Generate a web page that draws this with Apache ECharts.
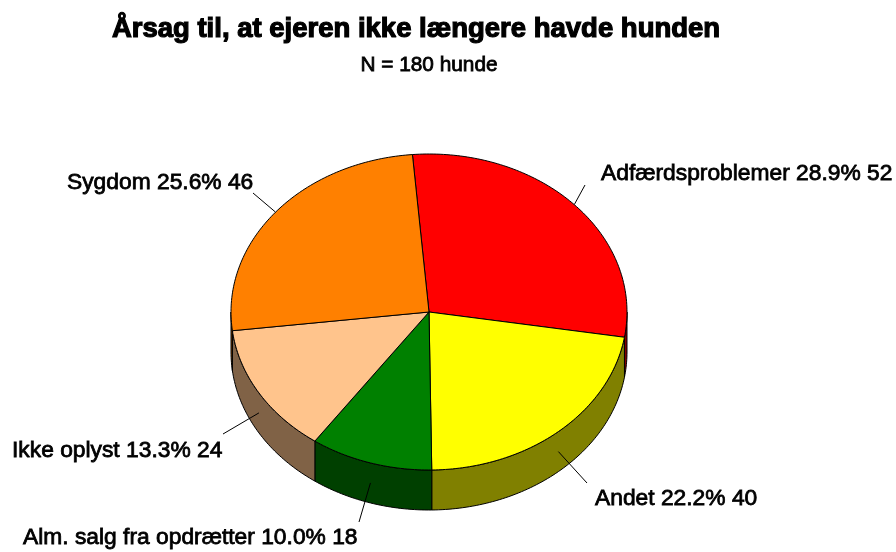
<!DOCTYPE html>
<html><head><meta charset="utf-8">
<style>html,body{margin:0;padding:0;background:#fff}#c{width:896px;height:552px}</style>
<script src="https://cdn.jsdelivr.net/npm/echarts@6/dist/echarts.min.js"></script>
</head><body><div id="c"></div>
<script>
const categories = ['Adfærdsproblemer','Andet','Alm. salg fra opdrætter','Ikke oplyst','Sygdom'];
const counts = [52,40,18,24,46];
const percents = ['28.9%','22.2%','10.0%','13.3%','25.6%'];
const topColors = ['#ff0000','#ffff00','#008000','#ffc48c','#ff8000'];
const wallColors = ['#800000','#808000','#004000','#806246','#804000'];
const title = 'Årsag til, at ejeren ikke længere havde hunden';
const subtitle = 'N = 180 hunde';

const CX=429, CY=312, RX=198, RY=158, DEPTH=40, START=-4.8;
const LABEL_X=[601,595,23,12,67], LABEL_Y=[174,499,538,451,183];
const LEAD_END=[[585,185],[587,483],[359,522],[223,434],[253,193]];
const FONT='"Liberation Sans", Arial, sans-serif';
const total=counts.reduce((a,b)=>a+b,0);
const pt=(deg,dy)=>{const r=deg*Math.PI/180;return [CX+RX*Math.sin(r),CY-RY*Math.cos(r)+(dy||0)];};
const range=i=>{let s=START;for(let k=0;k<i;k++)s+=counts[k]/total*360;return [s,s+counts[i]/total*360];};
const arc=(a,b,dy)=>{const n=Math.max(2,Math.ceil(Math.abs(b-a)));const o=[];for(let k=0;k<=n;k++)o.push(pt(a+(b-a)*k/n,dy));return o;};
const lineStyle={stroke:'#000',lineWidth:1,lineJoin:'round'};

const wallRender=(p,api)=>{
  const [s,e]=range(p.dataIndex);
  const a=Math.max(s,90),b=Math.min(e,270);
  if(b<=a)return {type:'group',children:[]};
  const pts=arc(a,b,0).concat(arc(b,a,DEPTH));
  return {type:'polygon',shape:{points:pts},style:Object.assign({fill:wallColors[p.dataIndex]},lineStyle)};
};
const topRender=(p,api)=>{
  const [s,e]=range(p.dataIndex);
  return {type:'polygon',shape:{points:[[CX,CY]].concat(arc(s,e,0))},style:Object.assign({fill:topColors[p.dataIndex]},lineStyle)};
};
const labelRender=(p,api)=>{
  const i=p.dataIndex,[s,e]=range(i),m=(s+e)/2;
  const lower=Math.cos(m*Math.PI/180)<0;
  const st=pt(m,lower?DEPTH/2:0);
  return {type:'group',children:[
    {type:'line',shape:{x1:st[0],y1:st[1],x2:LEAD_END[i][0],y2:LEAD_END[i][1]},style:{stroke:'#000',lineWidth:1}},
    {type:'text',x:LABEL_X[i],y:LABEL_Y[i],style:{text:categories[i]+' '+percents[i]+' '+api.value(0),font:'22.8px '+FONT,fill:'#000',stroke:'#000',lineWidth:0.8,textAlign:'left',textVerticalAlign:'middle'}}
  ]};
};
const dataRows=counts.map(v=>[v]);
const chart=echarts.init(document.getElementById('c'),null,{renderer:'canvas'});
chart.setOption({
  animation:false,
  backgroundColor:'#fff',
  title:[
    {text:title,left:411,top:10,textAlign:'center',textStyle:{fontFamily:FONT,fontSize:27.5,fontWeight:'bold',color:'#000',textBorderColor:'#000',textBorderWidth:1.2}},
    {text:subtitle,left:424,top:50,textAlign:'center',textStyle:{fontFamily:FONT,fontSize:20.8,fontWeight:'normal',color:'#000',textBorderColor:'#000',textBorderWidth:0.8}}
  ],
  series:[
    {type:'custom',coordinateSystem:'none',data:dataRows,renderItem:wallRender,silent:true,z:1},
    {type:'custom',coordinateSystem:'none',data:dataRows,renderItem:topRender,silent:true,z:2},
    {type:'custom',coordinateSystem:'none',data:dataRows,renderItem:labelRender,silent:true,z:3}
  ]
});
</script></body></html>
